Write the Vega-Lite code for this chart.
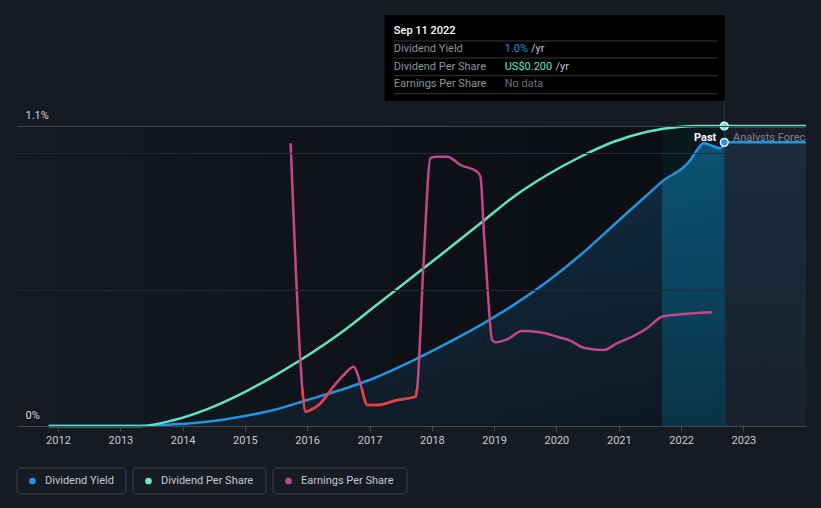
{
  "$schema": "https://vega.github.io/schema/vega-lite/v6.json",
  "background": "#151a23",
  "padding": {"left": 16, "top": 0, "right": 16, "bottom": 16},
  "config": {
    "view": {"stroke": null},
    "font": "Roboto",
    "concat": {"spacing": 22},
    "axis": {"labelFont": "Roboto", "title": null}
  },
  "resolve": {"scale": {"x": "independent", "y": "independent", "color": "independent"}},
  "datasets": {
    "yield": [
      {"date": "2011-11-08", "value": 0},
      {"date": "2013-05-01", "value": 0},
      {"date": "2013-11-12", "value": 0.006},
      {"date": "2014-05-26", "value": 0.0158},
      {"date": "2014-12-07", "value": 0.034},
      {"date": "2015-06-20", "value": 0.0587},
      {"date": "2016-01-02", "value": 0.0953},
      {"date": "2016-07-15", "value": 0.132},
      {"date": "2017-01-27", "value": 0.175},
      {"date": "2017-08-10", "value": 0.23},
      {"date": "2018-02-21", "value": 0.291},
      {"date": "2018-10-13", "value": 0.37},
      {"date": "2019-04-26", "value": 0.444},
      {"date": "2019-11-07", "value": 0.529},
      {"date": "2020-05-21", "value": 0.627},
      {"date": "2020-12-02", "value": 0.737},
      {"date": "2021-06-15", "value": 0.847},
      {"date": "2021-09-11", "value": 0.896},
      {"date": "2022-02-24", "value": 0.975},
      {"date": "2022-04-04", "value": 1.012},
      {"date": "2022-05-13", "value": 1.037},
      {"date": "2022-06-21", "value": 1.03},
      {"date": "2022-08-19", "value": 1.018},
      {"date": "2022-09-11", "value": 1.04}
    ],
    "yieldForecast": [
      {"date": "2022-09-11", "value": 1.04},
      {"date": "2024-01-03", "value": 1.04}
    ],
    "dps": [
      {"date": "2011-11-08", "dps": 0},
      {"date": "2013-05-01", "dps": 0},
      {"date": "2013-11-12", "dps": 0.004},
      {"date": "2014-05-26", "dps": 0.0113},
      {"date": "2014-12-07", "dps": 0.0213},
      {"date": "2015-06-20", "dps": 0.0333},
      {"date": "2015-11-23", "dps": 0.044},
      {"date": "2016-07-15", "dps": 0.062},
      {"date": "2017-01-27", "dps": 0.0793},
      {"date": "2017-08-10", "dps": 0.0967},
      {"date": "2018-02-21", "dps": 0.114},
      {"date": "2018-10-13", "dps": 0.1351},
      {"date": "2019-04-26", "dps": 0.1529},
      {"date": "2019-11-07", "dps": 0.1673},
      {"date": "2020-05-21", "dps": 0.1795},
      {"date": "2020-12-02", "dps": 0.1895},
      {"date": "2021-06-15", "dps": 0.1962},
      {"date": "2021-12-28", "dps": 0.1995},
      {"date": "2022-04-01", "dps": 0.2},
      {"date": "2022-09-11", "dps": 0.2},
      {"date": "2024-01-03", "dps": 0.2}
    ],
    "eps": [
      {"date": "2015-09-26", "eps": 1.2235},
      {"date": "2015-11-23", "eps": 0.125},
      {"date": "2015-12-03", "eps": 0},
      {"date": "2015-12-23", "eps": -0.1185},
      {"date": "2016-01-21", "eps": -0.11},
      {"date": "2016-03-19", "eps": -0.0765},
      {"date": "2016-05-27", "eps": 0},
      {"date": "2016-08-02", "eps": 0.065},
      {"date": "2016-09-30", "eps": 0.1065},
      {"date": "2016-10-20", "eps": 0.075},
      {"date": "2016-11-15", "eps": 0},
      {"date": "2016-12-18", "eps": -0.085},
      {"date": "2017-02-15", "eps": -0.085},
      {"date": "2017-06-13", "eps": -0.06},
      {"date": "2017-09-27", "eps": -0.0435},
      {"date": "2017-10-07", "eps": 0},
      {"date": "2017-11-13", "eps": 0.625},
      {"date": "2017-12-24", "eps": 1.15},
      {"date": "2018-02-01", "eps": 1.1565},
      {"date": "2018-04-01", "eps": 1.1565},
      {"date": "2018-06-18", "eps": 1.115},
      {"date": "2018-09-23", "eps": 1.0815},
      {"date": "2018-10-13", "eps": 1.0565},
      {"date": "2018-11-01", "eps": 0.79},
      {"date": "2018-11-24", "eps": 0.49},
      {"date": "2018-12-20", "eps": 0.24},
      {"date": "2019-01-09", "eps": 0.2285},
      {"date": "2019-03-18", "eps": 0.2435},
      {"date": "2019-06-14", "eps": 0.285},
      {"date": "2019-09-29", "eps": 0.2785},
      {"date": "2020-01-05", "eps": 0.2565},
      {"date": "2020-03-23", "eps": 0.2365},
      {"date": "2020-06-09", "eps": 0.2015},
      {"date": "2020-10-05", "eps": 0.19},
      {"date": "2020-12-21", "eps": 0.2235},
      {"date": "2021-03-29", "eps": 0.26},
      {"date": "2021-06-15", "eps": 0.2985},
      {"date": "2021-09-11", "eps": 0.3565},
      {"date": "2021-12-08", "eps": 0.3665},
      {"date": "2022-03-15", "eps": 0.3735},
      {"date": "2022-07-01", "eps": 0.3785}
    ],
    "legend": [
      {"series": "Dividend Yield"},
      {"series": "Dividend Per Share"},
      {"series": "Earnings Per Share"}
    ]
  },
  "vconcat": [
    {
      "width": 789,
      "height": 426,
      "resolve": {"scale": {"y": "independent"}},
      "layer": [
        {
          "layer": [
            {
              "data": {"values": [{}]},
              "mark": {"type": "rect", "fill": {"gradient": "linear", "x1": 0, "y1": 0, "x2": 1, "y2": 0, "stops": [{"offset": 0, "color": "#151a22"}, {"offset": 0.45, "color": "#0f1319"}, {"offset": 1, "color": "#0a0d11"}]}},
              "encoding": {
                "x": {"datum": {"year": 2011, "month": 5, "date": 6}, "type": "temporal", "scale": {"domain": [{"year": 2011, "month": 5, "date": 6}, {"year": 2024, "month": 1, "date": 3}]}},
                "x2": {"datum": {"year": 2022, "month": 9, "date": 11}},
                "y": {"datum": 0, "type": "quantitative", "scale": {"domain": [0, 1.562], "nice": false, "zero": false}},
                "y2": {"datum": 1.1}
              }
            },
            {
              "data": {"values": [{}]},
              "mark": {"type": "rect", "fill": "#1a1f29"},
              "encoding": {
                "x": {"datum": {"year": 2022, "month": 9, "date": 11}, "type": "temporal"},
                "x2": {"datum": {"year": 2024, "month": 1, "date": 3}},
                "y": {"datum": 0, "type": "quantitative"},
                "y2": {"datum": 1.1}
              }
            },
            {
              "data": {"values": [{}]},
              "mark": {"type": "rect", "fill": "#00a0d0", "opacity": 0.07},
              "encoding": {
                "x": {"datum": {"year": 2021, "month": 9, "date": 11}, "type": "temporal"},
                "x2": {"datum": {"year": 2022, "month": 9, "date": 11}},
                "y": {"datum": 0, "type": "quantitative"},
                "y2": {"datum": 1.1}
              }
            },
            {
              "data": {"name": "yield"},
              "mark": {"type": "area", "interpolate": "monotone", "fill": {"gradient": "linear", "x1": 0, "y1": 0, "x2": 0, "y2": 1, "stops": [{"offset": 0, "color": "rgba(35,148,223,0.24)"}, {"offset": 1, "color": "rgba(35,148,223,0.07)"}]}},
              "encoding": {
                "x": {"field": "date", "type": "temporal", "scale": {"domain": [{"year": 2011, "month": 5, "date": 6}, {"year": 2024, "month": 1, "date": 3}]}},
                "y": {"field": "value", "type": "quantitative", "scale": {"domain": [0, 1.562], "nice": false, "zero": false}}
              }
            },
            {
              "data": {"name": "yield"},
              "transform": [{"filter": "toDate(datum.date) >= toDate('2021-09-11')"}],
              "mark": {"type": "area", "interpolate": "monotone", "fill": {"gradient": "linear", "x1": 0, "y1": 0, "x2": 0, "y2": 1, "stops": [{"offset": 0, "color": "rgba(0,150,205,0.30)"}, {"offset": 1, "color": "rgba(0,150,205,0.16)"}]}},
              "encoding": {
                "x": {"field": "date", "type": "temporal", "scale": {"domain": [{"year": 2011, "month": 5, "date": 6}, {"year": 2024, "month": 1, "date": 3}]}},
                "y": {"field": "value", "type": "quantitative", "scale": {"domain": [0, 1.562], "nice": false, "zero": false}}
              }
            },
            {
              "data": {"name": "yieldForecast"},
              "mark": {"type": "area", "fill": {"gradient": "linear", "x1": 0, "y1": 0, "x2": 0, "y2": 1, "stops": [{"offset": 0, "color": "rgba(35,148,223,0.11)"}, {"offset": 1, "color": "rgba(35,148,223,0.03)"}]}},
              "encoding": {
                "x": {"field": "date", "type": "temporal", "scale": {"domain": [{"year": 2011, "month": 5, "date": 6}, {"year": 2024, "month": 1, "date": 3}]}},
                "y": {"field": "value", "type": "quantitative", "scale": {"domain": [0, 1.562], "nice": false, "zero": false}}
              }
            },
            {
              "data": {"values": [{}]},
              "mark": {"type": "rule", "color": "#0f4056", "strokeWidth": 1},
              "encoding": {
                "x": {"datum": {"year": 2022, "month": 9, "date": 11}, "type": "temporal"},
                "y": {"datum": 0, "type": "quantitative"},
                "y2": {"datum": 1.1917}
              }
            },
            {
              "data": {"name": "yield"},
              "mark": {"type": "line", "color": "#2394df", "strokeWidth": 2.5, "interpolate": "monotone"},
              "encoding": {
                "x": {
                  "field": "date",
                  "type": "temporal",
                  "scale": {"domain": [{"year": 2011, "month": 5, "date": 6}, {"year": 2024, "month": 1, "date": 3}]},
                  "axis": {
                    "values": [
                      {"year": 2012, "month": 1, "date": 1}, {"year": 2013, "month": 1, "date": 1},
                      {"year": 2014, "month": 1, "date": 1}, {"year": 2015, "month": 1, "date": 1},
                      {"year": 2016, "month": 1, "date": 1}, {"year": 2017, "month": 1, "date": 1},
                      {"year": 2018, "month": 1, "date": 1}, {"year": 2019, "month": 1, "date": 1},
                      {"year": 2020, "month": 1, "date": 1}, {"year": 2021, "month": 1, "date": 1},
                      {"year": 2022, "month": 1, "date": 1}, {"year": 2023, "month": 1, "date": 1}
                    ],
                    "format": "%Y",
                    "grid": false,
                    "domainColor": "#444951",
                    "tickColor": "#444951",
                    "tickSize": 5,
                    "labelColor": "#c8cbd0",
                    "labelFontSize": 11,
                    "labelPadding": 3,
                    "labelFlush": false,
                    "title": null,
                    "zindex": 1
                  }
                },
                "y": {
                  "field": "value",
                  "type": "quantitative",
                  "scale": {"domain": [0, 1.562], "nice": false, "zero": false},
                  "axis": {
                    "values": [0, 0.5, 1, 1.1],
                    "grid": true,
                    "gridColor": {"condition": {"test": "datum.value === 1.1", "value": "#41464e"}, "value": "#242932"},
                    "domain": false,
                    "ticks": false,
                    "tickSize": 0,
                    "labelExpr": "datum.value === 0 ? '0%' : (datum.value === 1.1 ? '1.1%' : '')",
                    "labelAlign": "left",
                    "labelBaseline": "alphabetic",
                    "labelPadding": -8,
                    "labelOffset": -8,
                    "labelColor": "#d3d6da",
                    "labelFontSize": 11,
                    "title": null,
                    "zindex": 1
                  }
                }
              }
            },
            {
              "data": {"name": "yieldForecast"},
              "mark": {"type": "line", "color": "#2394df", "strokeWidth": 2.5},
              "encoding": {
                "x": {"field": "date", "type": "temporal", "scale": {"domain": [{"year": 2011, "month": 5, "date": 6}, {"year": 2024, "month": 1, "date": 3}]}},
                "y": {"field": "value", "type": "quantitative", "scale": {"domain": [0, 1.562], "nice": false, "zero": false}}
              }
            },
            {
              "data": {"values": [{}]},
              "mark": {"type": "rect", "fill": "#000000"},
              "encoding": {
                "x": {"datum": {"year": 2017, "month": 3, "date": 30}, "type": "temporal"},
                "x2": {"datum": {"year": 2022, "month": 9, "date": 14}},
                "y": {"datum": 1.1917, "type": "quantitative"},
                "y2": {"datum": 1.507}
              }
            },
            {
              "data": {"values": [{}]},
              "mark": {"type": "rule", "color": "#36383c", "strokeWidth": 1},
              "encoding": {
                "x": {"datum": {"year": 2017, "month": 5, "date": 23}, "type": "temporal"},
                "x2": {"datum": {"year": 2022, "month": 8, "date": 1}},
                "y": {"datum": 1.4117, "type": "quantitative"}
              }
            },
            {
              "data": {"values": [{}]},
              "mark": {"type": "rule", "color": "#36383c", "strokeWidth": 1},
              "encoding": {
                "x": {"datum": {"year": 2017, "month": 5, "date": 23}, "type": "temporal"},
                "x2": {"datum": {"year": 2022, "month": 8, "date": 1}},
                "y": {"datum": 1.3493, "type": "quantitative"}
              }
            },
            {
              "data": {"values": [{}]},
              "mark": {"type": "rule", "color": "#36383c", "strokeWidth": 1},
              "encoding": {
                "x": {"datum": {"year": 2017, "month": 5, "date": 23}, "type": "temporal"},
                "x2": {"datum": {"year": 2022, "month": 8, "date": 1}},
                "y": {"datum": 1.2844, "type": "quantitative"}
              }
            },
            {
              "data": {"values": [{}]},
              "mark": {"type": "rule", "color": "#36383c", "strokeWidth": 1},
              "encoding": {
                "x": {"datum": {"year": 2017, "month": 5, "date": 23}, "type": "temporal"},
                "x2": {"datum": {"year": 2022, "month": 8, "date": 1}},
                "y": {"datum": 1.2184, "type": "quantitative"}
              }
            },
            {
              "data": {"values": [{}]},
              "mark": {"type": "text", "text": "Sep 11 2022", "align": "left", "baseline": "middle", "fontSize": 11, "fontWeight": 500, "color": "#ffffff"},
              "encoding": {
                "x": {"datum": {"year": 2017, "month": 5, "date": 23}, "type": "temporal"},
                "y": {"datum": 1.4483, "type": "quantitative"}
              }
            },
            {
              "data": {"values": [{}]},
              "mark": {"type": "text", "text": "Dividend Yield", "align": "left", "baseline": "middle", "fontSize": 11, "color": "#8f949b"},
              "encoding": {
                "x": {"datum": {"year": 2017, "month": 5, "date": 23}, "type": "temporal"},
                "y": {"datum": 1.3823, "type": "quantitative"}
              }
            },
            {
              "data": {"values": [{}]},
              "mark": {"type": "text", "text": "1.0%", "align": "left", "baseline": "middle", "fontSize": 11, "color": "#2394df"},
              "encoding": {
                "x": {"datum": {"year": 2019, "month": 3, "date": 4}, "type": "temporal"},
                "y": {"datum": 1.3823, "type": "quantitative"}
              }
            },
            {
              "data": {"values": [{}]},
              "mark": {"type": "text", "text": "/yr", "align": "left", "baseline": "middle", "fontSize": 11, "color": "#c3c7cc"},
              "encoding": {
                "x": {"datum": {"year": 2019, "month": 8, "date": 5}, "type": "temporal"},
                "y": {"datum": 1.3823, "type": "quantitative"}
              }
            },
            {
              "data": {"values": [{}]},
              "mark": {"type": "text", "text": "Dividend Per Share", "align": "left", "baseline": "middle", "fontSize": 11, "color": "#8f949b"},
              "encoding": {
                "x": {"datum": {"year": 2017, "month": 5, "date": 23}, "type": "temporal"},
                "y": {"datum": 1.3174, "type": "quantitative"}
              }
            },
            {
              "data": {"values": [{}]},
              "mark": {"type": "text", "text": "US$0.200", "align": "left", "baseline": "middle", "fontSize": 11, "color": "#62e3c6"},
              "encoding": {
                "x": {"datum": {"year": 2019, "month": 3, "date": 4}, "type": "temporal"},
                "y": {"datum": 1.3174, "type": "quantitative"}
              }
            },
            {
              "data": {"values": [{}]},
              "mark": {"type": "text", "text": "/yr", "align": "left", "baseline": "middle", "fontSize": 11, "color": "#c3c7cc"},
              "encoding": {
                "x": {"datum": {"year": 2019, "month": 12, "date": 27}, "type": "temporal"},
                "y": {"datum": 1.3174, "type": "quantitative"}
              }
            },
            {
              "data": {"values": [{}]},
              "mark": {"type": "text", "text": "Earnings Per Share", "align": "left", "baseline": "middle", "fontSize": 11, "color": "#8f949b"},
              "encoding": {
                "x": {"datum": {"year": 2017, "month": 5, "date": 23}, "type": "temporal"},
                "y": {"datum": 1.2529, "type": "quantitative"}
              }
            },
            {
              "data": {"values": [{}]},
              "mark": {"type": "text", "text": "No data", "align": "left", "baseline": "middle", "fontSize": 11, "color": "#6b7077"},
              "encoding": {
                "x": {"datum": {"year": 2019, "month": 3, "date": 4}, "type": "temporal"},
                "y": {"datum": 1.2529, "type": "quantitative"}
              }
            },
            {
              "data": {"values": [{}]},
              "mark": {"type": "point", "filled": true, "size": 60, "fill": "#2394df", "stroke": "#e6f2fb", "strokeWidth": 1.5, "opacity": 1},
              "encoding": {
                "x": {"datum": {"year": 2022, "month": 9, "date": 11}, "type": "temporal"},
                "y": {"datum": 1.04, "type": "quantitative"}
              }
            },
            {
              "data": {"values": [{}]},
              "mark": {"type": "text", "text": "Past", "align": "right", "baseline": "middle", "fontSize": 11, "fontWeight": "bold", "color": "#ffffff"},
              "encoding": {
                "x": {"datum": {"year": 2022, "month": 7, "date": 26}, "type": "temporal"},
                "y": {"datum": 1.056, "type": "quantitative"}
              }
            },
            {
              "data": {"values": [{}]},
              "mark": {"type": "text", "text": "Analysts Forecast", "align": "left", "baseline": "middle", "fontSize": 11, "color": "#7f848c", "clip": true},
              "encoding": {
                "x": {"datum": {"year": 2022, "month": 11, "date": 1}, "type": "temporal"},
                "y": {"datum": 1.056, "type": "quantitative"}
              }
            }
          ]
        },
        {
          "data": {"name": "dps"},
          "layer": [
            {
              "mark": {"type": "line", "color": "#62e3c6", "strokeWidth": 2.5, "interpolate": "monotone"},
              "encoding": {
                "x": {"field": "date", "type": "temporal", "scale": {"domain": [{"year": 2011, "month": 5, "date": 6}, {"year": 2024, "month": 1, "date": 3}]}},
                "y": {"field": "dps", "type": "quantitative", "scale": {"domain": [0, 0.284], "nice": false, "zero": false}, "axis": null}
              }
            },
            {
              "data": {"values": [{}]},
              "mark": {"type": "point", "filled": true, "size": 60, "fill": "#6ee7cd", "stroke": "#e8fffa", "strokeWidth": 1.5, "opacity": 1},
              "encoding": {
                "x": {"datum": {"year": 2022, "month": 9, "date": 11}, "type": "temporal"},
                "y": {"datum": 0.2, "type": "quantitative", "scale": {"domain": [0, 0.284], "nice": false, "zero": false}, "axis": null}
              }
            }
          ]
        },
        {
          "data": {"name": "eps"},
          "transform": [{"calculate": "datum.eps <= 0 ? datum.eps : null", "as": "neg"}],
          "layer": [
            {
              "mark": {"type": "line", "color": "#c2478b", "strokeWidth": 2.5, "interpolate": "monotone"},
              "encoding": {
                "x": {"field": "date", "type": "temporal", "scale": {"domain": [{"year": 2011, "month": 5, "date": 6}, {"year": 2024, "month": 1, "date": 3}]}},
                "y": {"field": "eps", "type": "quantitative", "scale": {"domain": [-0.19, 1.94], "nice": false, "zero": false}, "axis": null}
              }
            },
            {
              "mark": {"type": "line", "color": "#e3403f", "strokeWidth": 2.5, "interpolate": "monotone", "invalid": "break-paths-filter-domains"},
              "encoding": {
                "x": {"field": "date", "type": "temporal", "scale": {"domain": [{"year": 2011, "month": 5, "date": 6}, {"year": 2024, "month": 1, "date": 3}]}},
                "y": {"field": "neg", "type": "quantitative", "scale": {"domain": [-0.19, 1.94], "nice": false, "zero": false}, "axis": null}
              }
            }
          ]
        }
      ]
    },
    {
      "spacing": 5,
      "resolve": {"scale": {"x": "independent", "y": "independent", "color": "shared"}},
      "hconcat": [
        {
          "width": 109,
          "height": 26,
          "data": {"name": "legend"},
          "transform": [{"filter": "datum.series === 'Dividend Yield'"}],
          "layer": [
            {
              "mark": {"type": "bar", "fill": "#161b24", "stroke": "#3d424b", "strokeWidth": 1, "cornerRadius": 3},
              "encoding": {
                "x": {"field": "series", "type": "nominal", "scale": {"paddingInner": 0, "paddingOuter": 0}, "axis": null},
                "y": {"datum": 0, "type": "quantitative", "scale": {"domain": [0, 1]}, "axis": null},
                "y2": {"datum": 1}
              }
            },
            {
              "mark": {"type": "circle", "size": 45, "opacity": 1, "xOffset": 15.5},
              "encoding": {
                "x": {"field": "series", "type": "nominal", "bandPosition": 0},
                "y": {"datum": 0.5, "type": "quantitative"},
                "color": {"field": "series", "type": "nominal", "scale": {"domain": ["Dividend Yield", "Dividend Per Share", "Earnings Per Share"], "range": ["#2394df", "#6ee7cd", "#c2478b"]}, "legend": null}
              }
            },
            {
              "mark": {"type": "text", "align": "left", "baseline": "middle", "dx": 28, "fontSize": 11, "color": "#c5c9cf"},
              "encoding": {
                "x": {"field": "series", "type": "nominal", "bandPosition": 0},
                "y": {"datum": 0.5, "type": "quantitative"},
                "text": {"field": "series"}
              }
            }
          ]
        },
        {
          "width": 133,
          "height": 26,
          "data": {"name": "legend"},
          "transform": [{"filter": "datum.series === 'Dividend Per Share'"}],
          "layer": [
            {
              "mark": {"type": "bar", "fill": "#161b24", "stroke": "#3d424b", "strokeWidth": 1, "cornerRadius": 3},
              "encoding": {
                "x": {"field": "series", "type": "nominal", "scale": {"paddingInner": 0, "paddingOuter": 0}, "axis": null},
                "y": {"datum": 0, "type": "quantitative", "scale": {"domain": [0, 1]}, "axis": null},
                "y2": {"datum": 1}
              }
            },
            {
              "mark": {"type": "circle", "size": 45, "opacity": 1, "xOffset": 15.5},
              "encoding": {
                "x": {"field": "series", "type": "nominal", "bandPosition": 0},
                "y": {"datum": 0.5, "type": "quantitative"},
                "color": {"field": "series", "type": "nominal", "scale": {"domain": ["Dividend Yield", "Dividend Per Share", "Earnings Per Share"], "range": ["#2394df", "#6ee7cd", "#c2478b"]}, "legend": null}
              }
            },
            {
              "mark": {"type": "text", "align": "left", "baseline": "middle", "dx": 28, "fontSize": 11, "color": "#c5c9cf"},
              "encoding": {
                "x": {"field": "series", "type": "nominal", "bandPosition": 0},
                "y": {"datum": 0.5, "type": "quantitative"},
                "text": {"field": "series"}
              }
            }
          ]
        },
        {
          "width": 134,
          "height": 26,
          "data": {"name": "legend"},
          "transform": [{"filter": "datum.series === 'Earnings Per Share'"}],
          "layer": [
            {
              "mark": {"type": "bar", "fill": "#161b24", "stroke": "#3d424b", "strokeWidth": 1, "cornerRadius": 3},
              "encoding": {
                "x": {"field": "series", "type": "nominal", "scale": {"paddingInner": 0, "paddingOuter": 0}, "axis": null},
                "y": {"datum": 0, "type": "quantitative", "scale": {"domain": [0, 1]}, "axis": null},
                "y2": {"datum": 1}
              }
            },
            {
              "mark": {"type": "circle", "size": 45, "opacity": 1, "xOffset": 15.5},
              "encoding": {
                "x": {"field": "series", "type": "nominal", "bandPosition": 0},
                "y": {"datum": 0.5, "type": "quantitative"},
                "color": {"field": "series", "type": "nominal", "scale": {"domain": ["Dividend Yield", "Dividend Per Share", "Earnings Per Share"], "range": ["#2394df", "#6ee7cd", "#c2478b"]}, "legend": null}
              }
            },
            {
              "mark": {"type": "text", "align": "left", "baseline": "middle", "dx": 28, "fontSize": 11, "color": "#c5c9cf"},
              "encoding": {
                "x": {"field": "series", "type": "nominal", "bandPosition": 0},
                "y": {"datum": 0.5, "type": "quantitative"},
                "text": {"field": "series"}
              }
            }
          ]
        }
      ]
    }
  ]
}
